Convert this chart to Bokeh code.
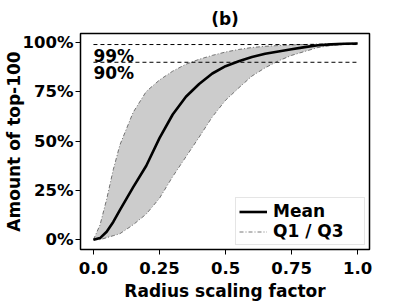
from bokeh.plotting import figure
from bokeh.models import FixedTicker, Legend, LegendItem, Label, Range1d
from bokeh.embed import file_html
from bokeh.resources import INLINE

x = [0.0, 0.025, 0.05, 0.075, 0.1, 0.15, 0.2, 0.25, 0.3, 0.35, 0.4, 0.45,
     0.5, 0.55, 0.6, 0.65, 0.7, 0.75, 0.8, 0.85, 0.9, 0.95, 1.0]
mean = [0.0, 0.008, 0.04, 0.09, 0.15, 0.265, 0.375, 0.515, 0.635, 0.725, 0.79, 0.843,
        0.88, 0.905, 0.927, 0.943, 0.955, 0.966, 0.977, 0.986, 0.991, 0.994, 0.995]
q3 = [0.0, 0.075, 0.205, 0.355, 0.48, 0.645, 0.752, 0.81, 0.855, 0.89, 0.915, 0.935,
      0.952, 0.965, 0.975, 0.981, 0.985, 0.988, 0.99, 0.993, 0.995, 0.996, 0.997]
q1 = [0.0, 0.0, 0.01, 0.02, 0.03, 0.075, 0.13, 0.21, 0.32, 0.42, 0.52, 0.623,
      0.707, 0.77, 0.83, 0.872, 0.907, 0.935, 0.955, 0.975, 0.985, 0.99, 0.995]
x_ticks = [0.0, 0.25, 0.5, 0.75, 1.0]
x_tick_labels = ["0.0", "0.25", "0.5", "0.75", "1.0"]
y_ticks = [0.0, 0.25, 0.5, 0.75, 1.0]
y_tick_labels = ["0%", "25%", "50%", "75%", "100%"]
thresholds = [0.99, 0.90]
threshold_labels = ["99%", "90%"]
x_label = "Radius scaling factor"
y_label = "Amount of top-100"

FONT = "DejaVu Sans"

p = figure(width=405, height=304, output_backend="svg", toolbar_location=None,
           x_range=Range1d(-0.049, 1.045), y_range=Range1d(-0.05, 1.046),
           min_border_left=80, min_border_right=36, min_border_top=33, min_border_bottom=55)
p.title.text = "(b)"
p.title.align = "center"
p.title.text_font = FONT
p.title.text_font_size = "17px"
p.title.text_font_style = "bold"
p.title.text_color = "black"
p.title.offset = 0

p.xgrid.visible = False
p.ygrid.visible = False
p.outline_line_color = "black"
p.outline_line_width = 1.5

for ax, ticks, labels in [(p.xaxis[0], x_ticks, x_tick_labels), (p.yaxis[0], y_ticks, y_tick_labels)]:
    ax.ticker = FixedTicker(ticks=ticks)
    ax.major_label_overrides = {t: l for t, l in zip(ticks, labels)}
    ax.minor_tick_line_color = None
    ax.major_tick_out = 5
    ax.major_tick_in = 0
    ax.major_tick_line_color = "black"
    ax.axis_line_color = None
    ax.major_label_text_font = FONT
    ax.major_label_text_font_size = "16.5px"
    ax.major_label_text_font_style = "bold"
    ax.major_label_text_color = "black"
    ax.axis_label_text_font = FONT
    ax.axis_label_text_font_size = "17px"
    ax.axis_label_text_font_style = "bold"
    ax.axis_label_text_color = "black"

p.xaxis.axis_label = x_label
p.yaxis.axis_label = y_label
p.xaxis.major_label_standoff = 7
p.xaxis.axis_label_standoff = 4
p.yaxis.major_label_standoff = 2
p.yaxis.axis_label_standoff = -4

p.varea(x=x, y1=q1, y2=q3, fill_color="#cccccc")
ql = p.line(x, q3, line_color="#555555", line_width=0.8, line_dash="4 2 1 2")
p.line(x, q1, line_color="#555555", line_width=0.8, line_dash="4 2 1 2")
ml = p.line(x, mean, line_color="black", line_width=2.6)

for t, lab in zip(thresholds, threshold_labels):
    p.segment(x0=[0.0], y0=[t], x1=[1.0], y1=[t], line_color="black", line_width=1, line_dash="4 3")
    p.add_layout(Label(x=0.0, y=t, text=lab, text_font=FONT, text_font_size="17px",
                       text_font_style="bold", text_baseline="top", y_offset=-1,
                       text_color="black"))

legend = Legend(items=[LegendItem(label="Mean", renderers=[ml]),
                       LegendItem(label="Q1 / Q3", renderers=[ql])],
                location="bottom_right")
legend.label_text_font = FONT
legend.label_text_font_size = "17px"
legend.label_text_font_style = "bold"
legend.label_text_color = "black"
legend.border_line_color = "#cccccc"
legend.glyph_width = 28
legend.label_height = 17
legend.glyph_height = 17
legend.label_width = 88
legend.spacing = 0
legend.padding = 3
legend.margin = 4
legend.label_standoff = 6
legend.background_fill_alpha = 1
p.add_layout(legend)

open("out.html", "w").write(file_html(p, INLINE))
